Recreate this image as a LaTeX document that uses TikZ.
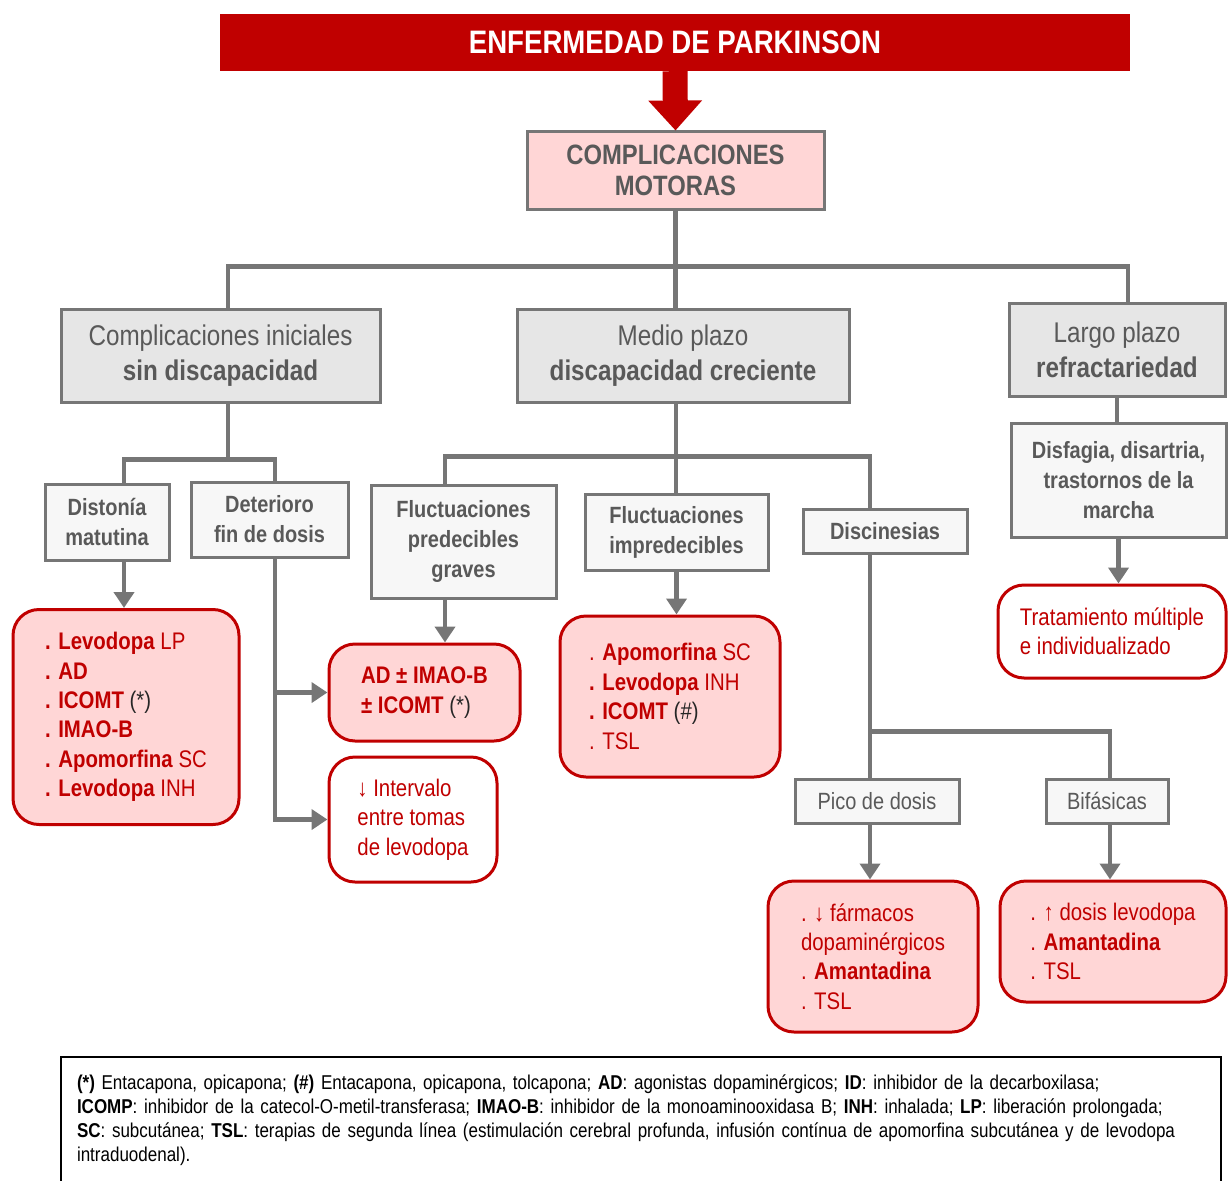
\documentclass[tikz,border=0pt]{standalone}
\usepackage{fontspec}
\setmainfont{Liberation Sans}[FakeStretch=0.85]
\usetikzlibrary{arrows.meta}
\definecolor{pkred}{HTML}{C00000}
\definecolor{pkline}{HTML}{767676}
\definecolor{pktext}{HTML}{595959}
\definecolor{pkdark}{HTML}{262626}
\definecolor{pkpink}{HTML}{FFD6D6}
\definecolor{pklight}{HTML}{E6E6E6}
\definecolor{pkwhite}{HTML}{F7F7F7}
\tikzset{line/.style = {draw=pkline, line width=4.5pt}}
\tikzset{arr/.style = {line, -{Triangle[width=20pt,length=16pt]}}}
\tikzset{bigarr/.style = {draw=pkred, line width=25pt, -{Triangle[width=52pt,length=30pt]}}}
\tikzset{box/.style = {draw=pkline, line width=3pt, text=pktext, align=center, inner sep=0pt}}
\tikzset{topbox/.style = {box, fill=pkpink, font=\bfseries\fontsize{28}{31}\selectfont}}
\tikzset{grbox/.style = {box, fill=pklight, font=\fontsize{28.5}{35}\selectfont}}
\tikzset{smbox/.style = {box, fill=pkwhite, font=\bfseries\fontsize{23.5}{30}\selectfont}}
\tikzset{smreg/.style = {box, fill=pkwhite, font=\fontsize{23.5}{30}\selectfont}}
\tikzset{redbox/.style = {draw=pkred, line width=3pt, rounded corners=26pt, fill=pkpink,
                          text=pkred, align=left, inner sep=0pt, font=\fontsize{24}{29.4}\selectfont}}
\tikzset{redwbox/.style = {redbox, fill=white}}

\begin{document}
\begin{tikzpicture}[x=1pt, y=-1pt]
  \useasboundingbox (0,0) rectangle (1228,1180);
  % cabecera
  \node [fill=pkred, text=white, font=\bfseries\fontsize{32.5}{38}\selectfont,
         minimum width=910, minimum height=57, inner sep=0pt] (title) at (675,42.5) {ENFERMEDAD DE PARKINSON};
  \node [topbox, minimum width=297, minimum height=77] (compl) at (675.5,170.5) {COMPLICACIONES\\MOTORAS};
  \draw [bigarr] (title.south) -- (compl.north);

  % nivel 2
  \node [grbox, minimum width=319, minimum height=93] (ini) at (220.5,355.5) {Complicaciones iniciales\\\textbf{sin discapacidad}};
  \node [grbox, minimum width=332, minimum height=93] (medio) at (683,355.5) {Medio plazo\\\textbf{discapacidad creciente}};
  \node [grbox, minimum width=216, minimum height=93] (largo) at (1117,349.5) {Largo plazo\\\textbf{refractariedad}};

  % nivel 3
  \node [smbox, minimum width=124, minimum height=76] (dist) at (107,522) {Distonía\\matutina};
  \node [smbox, minimum width=157, minimum height=75] (deter) at (269.5,519.5) {Deterioro\\fin de dosis};
  \node [smbox, minimum width=185, minimum height=113] (fpred) at (463.5,541.5) {Fluctuaciones\\predecibles\\graves};
  \node [smbox, minimum width=183, minimum height=76] (fimp) at (676.5,532) {Fluctuaciones\\impredecibles};
  \node [smbox, minimum width=164, minimum height=44] (disc) at (885,531) {Discinesias};
  \node [smbox, minimum width=215, minimum height=114] (disf) at (1118.5,480) {Disfagia, disartria,\\trastornos de la\\marcha};
  \node [smreg, minimum width=164, minimum height=44] (pico) at (877,801) {Pico de dosis};
  \node [smreg, minimum width=122, minimum height=44] (bif) at (1107,801) {Bifásicas};

  % tratamientos
  \node [redbox, minimum width=226, minimum height=215] (levo) at (126,717)
    {\textbf{. Levodopa} LP\\\textbf{. AD}\\\textbf{. ICOMT} {\color{pkdark}(*)}\\\textbf{. IMAO-B}\\\textbf{. Apomorfina} SC\\\textbf{. Levodopa} INH};
  \node [redbox, minimum width=191, minimum height=97] (adimao) at (424.5,692.5)
    {\textbf{AD ± IMAO-B}\\\textbf{± ICOMT} {\color{pkdark}(*)}};
  \node [redwbox, minimum width=168, minimum height=125] (interv) at (413,819.5)
    {↓ Intervalo\\entre tomas\\de levodopa};
  \node [redbox, minimum width=220, minimum height=161] (apomor) at (670,696.5)
    {. \textbf{Apomorfina} SC\\\textbf{. Levodopa} INH\\\textbf{. ICOMT} {\color{pkdark}(\#)}\\. TSL};
  \node [redwbox, minimum width=228, minimum height=93] (trat) at (1112,631.5)
    {Tratamiento múltiple\\e individualizado};
  \node [redbox, minimum width=210, minimum height=151] (farmac) at (873,956.5)
    {. ↓ fármacos\\dopaminérgicos\\. \textbf{Amantadina}\\. TSL};
  \node [redbox, minimum width=226, minimum height=121] (dosis) at (1113,941.5)
    {. ↑ dosis levodopa\\. \textbf{Amantadina}\\. TSL};

  % conectores
  \draw [line] (compl.south) -- ++(0,56) coordinate (jtop);
  \draw [line] ([xshift=7.5pt]ini.north) |- (jtop) -| ([xshift=11pt]largo.north);
  \draw [line] (jtop) -- (jtop |- medio.north);

  \draw [line] ([xshift=7.5pt]ini.south) -- ++(0,56) coordinate (jini);
  \draw [line] ([xshift=17pt]dist.north) |- (jini) -| ([xshift=5.5pt]deter.north);
  \draw [arr] ([xshift=17pt]dist.south) -- ([xshift=-2pt]levo.north);
  \coordinate (jdet) at ([xshift=5.5pt]deter.south);
  \draw [arr] (jdet) |- (interv.west);
  \draw [arr] (jdet |- adimao.west) -- (adimao.west);

  \draw [line] ([xshift=-7pt]medio.south) -- ++(0,53) coordinate (jmed);
  \draw [line] ([xshift=-18.5pt]fpred.north) |- (jmed) -| ([xshift=-15pt]disc.north);
  \draw [line] (jmed) -- (jmed |- fimp.north);
  \draw [arr] ([xshift=-18.5pt]fpred.south) -- ([xshift=20.5pt]adimao.north);
  \draw [arr] (fimp.south) -- (fimp.south |- apomor.north);

  \coordinate (jdis) at ([xshift=-15pt]disc.south);
  \draw [line] (jdis) -- (jdis |- pico.north);
  \path (jdis |- pico.north) ++(0,-46) coordinate (jbr);
  \draw [line] (jbr) -| ([xshift=3pt]bif.north);
  \draw [arr] (jdis |- pico.south) -- (jdis |- farmac.north);
  \coordinate (jbif) at ([xshift=3pt]bif.south);
  \draw [arr] (jbif) -- (jbif |- dosis.north);

  \draw [line] (largo.south) -- (largo.south |- disf.north);
  \draw [arr] (disf.south) -- (disf.south |- trat.north);

  % leyenda
  \node [draw=black, line width=1.5pt, minimum height=126, inner xsep=16pt, inner ysep=0pt,
         text width=1128, align=left, font=\fontsize{20}{24}\selectfont] (legend) at (641,1120)
    {\textbf{(*)} Entacapona, opicapona; \textbf{(\#)} Entacapona, opicapona, tolcapona; \textbf{AD}: agonistas dopaminérgicos; \textbf{ID}: inhibidor de la decarboxilasa;\\
     \textbf{ICOMP}: inhibidor de la catecol-O-metil-transferasa; \textbf{IMAO-B}: inhibidor de la monoaminooxidasa B; \textbf{INH}: inhalada; \textbf{LP}: liberación prolongada;\\
     \textbf{SC}: subcutánea; \textbf{TSL}: terapias de segunda línea (estimulación cerebral profunda, infusión contínua de apomorfina subcutánea y de levodopa\\
     intraduodenal).};
\end{tikzpicture}
\end{document}
